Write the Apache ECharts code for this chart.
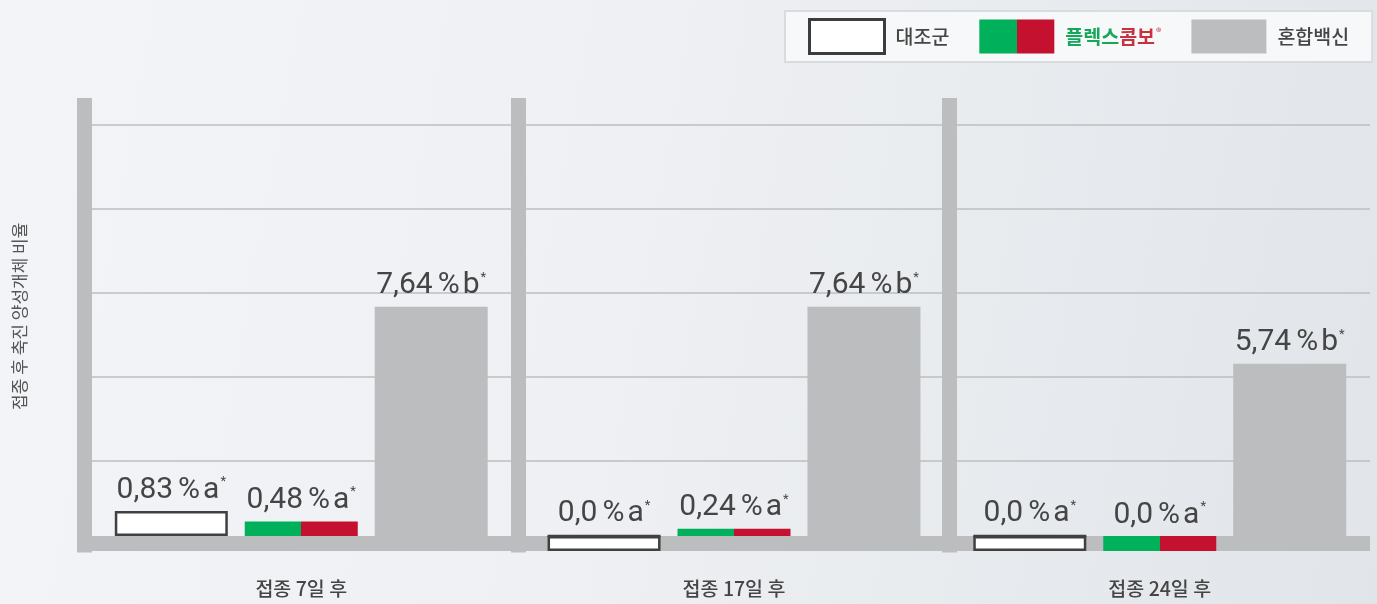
<!DOCTYPE html>
<html>
<head>
<meta charset="utf-8">
<script src="https://cdn.jsdelivr.net/npm/echarts@6/dist/echarts.min.js"></script>
<style>
  html, body { margin: 0; padding: 0; }
  body { background: linear-gradient(100deg, #f3f4f7 0%, #eef0f3 45%, #e1e5e9 100%); }
  #chart { width: 1377px; height: 604px; }
</style>
</head>
<body>
<div id="chart"></div>
<script>
// ---- data ----
const categories = ['접종 7일 후', '접종 17일 후', '접종 24일 후'];
const seriesNames = ['대조군', '플렉스콤보', '혼합백신'];
const controlValues = [0.83, 0.0, 0.0];
const plexValues = [0.48, 0.24, 0.0];
const mixValues = [7.64, 7.64, 5.74];
const controlLetters = ['a', 'a', 'a'];
const plexLetters = ['a', 'a', 'a'];
const mixLetters = ['b', 'b', 'b'];
const yAxisTitle = '접종 후 축진 양성개체 비율';

// ---- styles ----
const GRAY = '#bcbdbf';
const GREEN = '#00b05a';
const RED = '#c4112f';
const TEXT = '#454545';
const KR = '"Noto Sans CJK KR", "Noto Sans", sans-serif';

const plexFill = {
  type: 'linear', x: 0, y: 0, x2: 1, y2: 0,
  colorStops: [
    { offset: 0, color: GREEN }, { offset: 0.5, color: GREEN },
    { offset: 0.5, color: RED }, { offset: 1, color: RED }
  ]
};
const styles = [
  { color: '#ffffff', borderColor: '#404040', borderWidth: 2.5 },
  { color: plexFill },
  { color: GRAY }
];
const valueSets = [controlValues, plexValues, mixValues];
const letterSets = [controlLetters, plexLetters, mixLetters];

function fmt(v) {
  return v === 0 ? '0,0' : v.toFixed(2).replace('.', ',');
}

const labelRich = {
  n: { fontFamily: 'Roboto', fontSize: 30, color: TEXT },
  p: { fontFamily: 'Roboto', fontSize: 30, color: TEXT, padding: [0, 0, 0, 5] },
  l: { fontFamily: 'Roboto', fontSize: 30, color: TEXT, padding: [0, 0, 0, 3] },
  s: { fontFamily: 'Roboto', fontSize: 13, color: TEXT, verticalAlign: 'top', padding: [0, 0, 0, 1] }
};

// panel geometry (grid rects, in px)
const panels = [
  { left: 84, right: 1377 - 518.5 },
  { left: 518.5, right: 1377 - 949.5 },
  { left: 949.5, right: 7 }
];

const grids = [], xAxes = [], yAxes = [], series = [];
panels.forEach((p, i) => {
  grids.push({ left: p.left, right: p.right, top: 105.5, bottom: 59 });
  xAxes.push({
    type: 'category', gridIndex: i, data: [categories[i]],
    offset: -1.5,
    axisLine: { show: true, onZero: false, lineStyle: { color: GRAY, width: 15, cap: 'butt' } },
    axisTick: { show: false },
    axisLabel: { margin: 35, fontSize: 19.5, color: TEXT, fontFamily: KR, fontWeight: 500 }
  });
  const y = {
    type: 'value', gridIndex: i, min: -0.3, max: 14.35, interval: 2.8,
    axisLine: { show: true, onZero: false, lineStyle: { color: GRAY, width: 15, cap: 'square' } },
    axisTick: { show: false },
    axisLabel: { show: false },
    splitLine: { show: true, showMinLine: false, showMaxLine: false, lineStyle: { color: '#bdbec1', width: 1.5 } }
  };
  if (i === 0) {
    Object.assign(y, {
      name: yAxisTitle, nameLocation: 'middle', nameRotate: 90, nameGap: 56,
      nameTextStyle: { fontSize: 17, color: '#555', fontFamily: KR, padding: [0, 0, 0, 18] }
    });
  }
  yAxes.push(y);

  seriesNames.forEach((name, k) => {
    const v = valueSets[k][i];
    const stackId = 'p' + i + 's' + k;
    series.push({
      name: name, type: 'bar', xAxisIndex: i, yAxisIndex: i,
      stack: stackId, barWidth: 113, barGap: '15%',
      data: [v], itemStyle: styles[k], z: 2,
      label: {
        show: true, position: 'top', distance: 6,
        formatter: () => '{n|' + fmt(v) + '}{p|%}{l|' + letterSets[k][i] + '}{s|*}',
        rich: labelRich
      }
    });
    // foot box drawn in the baseline band for zero values
    series.push({
      name: name + '-base', type: 'bar', xAxisIndex: i, yAxisIndex: i,
      stack: stackId, barWidth: 113, barGap: '15%', clip: false,
      data: [v === 0 ? -0.5 : '-'], itemStyle: styles[k], z: 4,
      label: { show: false }
    });
  });
});

const chart = echarts.init(document.getElementById('chart'), null, { renderer: 'canvas' });
chart.setOption({
  animation: false,
  backgroundColor: 'transparent',
  legend: {
    left: 785, top: 11,
    selectedMode: false,
    backgroundColor: '#f7f8f9', borderColor: '#d9dbde', borderWidth: 2,
    padding: [7, 23, 7, 23],
    itemWidth: 75, itemHeight: 34, itemGap: 30,
    icon: 'rect',
    data: [
      { name: '대조군', itemStyle: { color: '#ffffff', borderColor: '#3c3c3c', borderWidth: 3 } },
      { name: '플렉스콤보', itemStyle: { color: plexFill, borderWidth: 0 } },
      { name: '혼합백신', itemStyle: { color: GRAY, borderWidth: 0 } }
    ],
    formatter: (name) => name === '플렉스콤보' ? '{g|플렉스}{r|콤보}{s|®}' : name,
    textStyle: {
      fontFamily: KR, fontSize: 19.5, fontWeight: 500, color: TEXT, padding: [0, 0, 0, 6],
      rich: {
        g: { fontFamily: KR, fontSize: 19.5, fontWeight: 'bold', color: '#16a85a' },
        r: { fontFamily: KR, fontSize: 19.5, fontWeight: 'bold', color: '#c8323f' },
        s: { fontFamily: KR, fontSize: 11, color: '#c8505a', verticalAlign: 'top', padding: [0, 0, 0, 1] }
      }
    }
  },
  grid: grids,
  xAxis: xAxes,
  yAxis: yAxes,
  series: series
});
</script>
</body>
</html>
